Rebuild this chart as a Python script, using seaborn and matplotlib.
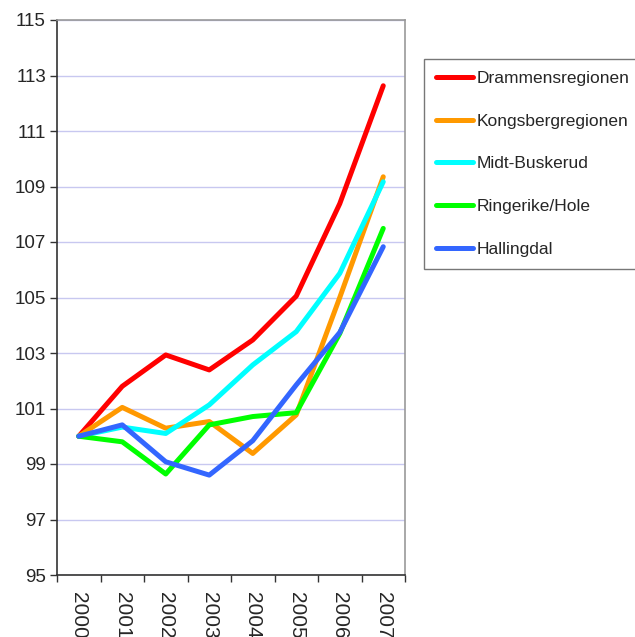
"""
plot.py

Index line chart for Buskerud regions, 2000-2007 (2000 = 100).
"""

import pandas as pd
import matplotlib
matplotlib.use("Agg")
import matplotlib.pyplot as plt
import seaborn as sns


# ========== DATA ========== #

YEARS = ["2000", "2001", "2002", "2003", "2004", "2005", "2006", "2007"]

REGIONS = ["Drammensregionen", "Kongsbergregionen", "Midt-Buskerud",
           "Ringerike/Hole", "Hallingdal"]

DRAMMEN = [100.0, 101.8, 102.93, 102.39, 103.47, 105.05, 108.38, 112.63]
KONGSBERG = [100.0, 101.04, 100.29, 100.53, 99.38, 100.77, 105.0, 109.35]
MIDT = [100.0, 100.33, 100.1, 101.13, 102.57, 103.77, 105.87, 109.17]
RINGERIKE = [100.0, 99.8, 98.64, 100.41, 100.71, 100.85, 103.7, 107.49]
HALLINGDAL = [100.0, 100.41, 99.08, 98.6, 99.84, 101.85, 103.74, 106.83]

COLORS = ["#ff0000", "#ff9900", "#00ffff", "#00ff00", "#3366ff"]


# ========== PLOT ========== #

def build_frame():
    """Long-form table for seaborn."""
    series = [DRAMMEN, KONGSBERG, MIDT, RINGERIKE, HALLINGDAL]
    rows = []
    for name, values in zip(REGIONS, series):
        for i, v in enumerate(values):
            rows.append({"pos": i, "region": name, "value": v})
    return pd.DataFrame(rows)


def main():
    df = build_frame()

    sns.set_style("white")
    plt.rcParams["font.family"] = ["Liberation Sans", "DejaVu Sans"]

    fig = plt.figure(figsize=(6.35, 6.37), dpi=100)
    ax = fig.add_axes([57 / 635, 62 / 637, 348 / 635, 555 / 637])

    sns.lineplot(data=df, x="pos", y="value", hue="region",
                 hue_order=REGIONS, palette=COLORS, errorbar=None,
                 linewidth=3.6, ax=ax, legend=True)

    ax.set_xlim(-0.5, len(YEARS) - 0.5)
    ax.set_ylim(95, 115)
    ax.set_yticks(range(95, 116, 2))
    ax.yaxis.grid(True, color="#c8c8f0", linewidth=1)
    ax.set_axisbelow(True)

    # category labels at centres, tick marks at boundaries
    ax.set_xticks(range(len(YEARS)))
    ax.set_xticklabels(YEARS, rotation=-90, fontsize=15)
    ax.set_xticks([i - 0.5 for i in range(len(YEARS) + 1)], minor=True)
    ax.tick_params(axis="x", which="major", length=0, pad=12)
    ax.tick_params(axis="x", which="minor", length=5, width=1,
                   color="#333333", direction="out", bottom=True)
    ax.tick_params(axis="y", length=5, width=1, color="#333333",
                   direction="out", left=True, labelsize=13.5, pad=3)

    ax.set_xlabel("")
    ax.set_ylabel("")

    for side in ["left", "bottom"]:
        ax.spines[side].set_color("#333333")
        ax.spines[side].set_linewidth(1.2)
    for side in ["top", "right"]:
        ax.spines[side].set_color("#999999")
        ax.spines[side].set_linewidth(1.2)

    handles, labels = ax.get_legend_handles_labels()
    ax.get_legend().remove()
    leg = fig.legend(handles, labels, loc="upper left",
                     bbox_to_anchor=(424 / 635, 1 - 59 / 637),
                     fontsize=12.5, frameon=True, fancybox=False,
                     edgecolor="#555555", handlelength=2.12,
                     handletextpad=0.23, labelspacing=1.58,
                     borderpad=0.7, borderaxespad=0)
    leg.get_frame().set_linewidth(1)
    for line in leg.get_lines():
        line.set_linewidth(3.6)

    fig.savefig("out.png", dpi=100)
    plt.close(fig)


if __name__ == "__main__":
    main()
